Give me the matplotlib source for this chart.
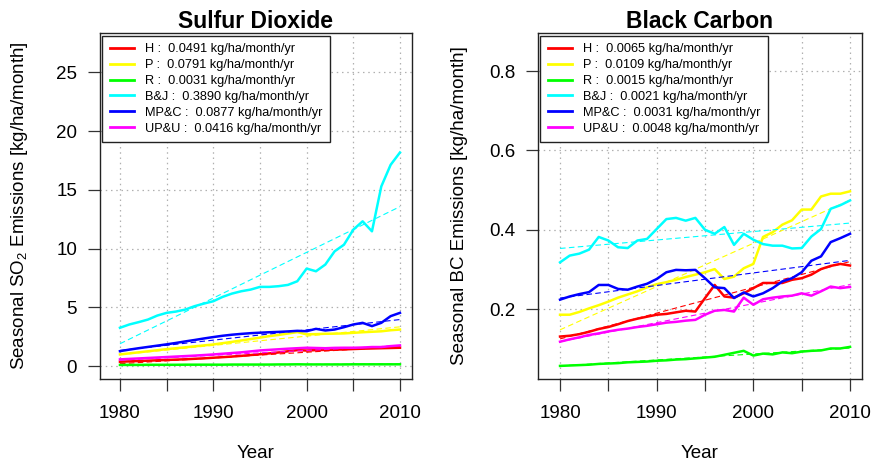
import matplotlib
matplotlib.use("Agg")
import matplotlib.pyplot as plt

plt.rcParams['font.family'] = ['Liberation Sans', 'DejaVu Sans']
plt.rcParams['mathtext.fontset'] = 'custom'
plt.rcParams['mathtext.rm'] = 'Liberation Sans'
plt.rcParams['mathtext.default'] = 'regular'

years = list(range(1980, 2011))
regions = ['H', 'P', 'R', 'B&J', 'MP&C', 'UP&U']
colors = ['#FF0000', '#FFFF00', '#00FF00', '#00FFFF', '#0000FF', '#FF00FF']

# Sulfur dioxide, kg/ha/month
so2_h = [0.37, 0.40, 0.43, 0.46, 0.49, 0.52, 0.55, 0.58, 0.62, 0.66,
         0.71, 0.76, 0.81, 0.87, 0.94, 1.01, 1.08, 1.16, 1.26, 1.36,
         1.32, 1.36, 1.38, 1.40, 1.42, 1.45, 1.48, 1.50, 1.52, 1.54, 1.56]
so2_p = [0.99, 1.08, 1.17, 1.26, 1.35, 1.44, 1.52, 1.60, 1.68, 1.76,
         1.84, 1.95, 2.06, 2.18, 2.30, 2.42, 2.55, 2.65, 2.77, 2.89,
         2.70, 2.72, 2.75, 2.76, 2.78, 2.83, 2.88, 2.92, 2.96, 3.05, 3.11]
so2_r = [0.10, 0.10, 0.10, 0.11, 0.11, 0.11, 0.11, 0.12, 0.12, 0.12,
         0.12, 0.12, 0.13, 0.13, 0.13, 0.13, 0.13, 0.14, 0.14, 0.15,
         0.14, 0.14, 0.14, 0.14, 0.14, 0.15, 0.15, 0.15, 0.15, 0.15, 0.15]
so2_bj = [3.26, 3.54, 3.74, 3.96, 4.30, 4.53, 4.64, 4.81, 5.10, 5.32,
          5.52, 5.89, 6.17, 6.37, 6.51, 6.74, 6.74, 6.80, 6.91, 7.22,
          8.30, 8.07, 8.64, 9.77, 10.33, 11.61, 12.32, 11.47, 15.29, 17.13, 18.18]
so2_mpc = [1.27, 1.40, 1.52, 1.63, 1.74, 1.85, 1.97, 2.10, 2.22, 2.35,
           2.47, 2.58, 2.67, 2.74, 2.80, 2.84, 2.88, 2.91, 2.95, 3.00,
           2.97, 3.17, 3.03, 3.11, 3.31, 3.54, 3.68, 3.40, 3.68, 4.25, 4.53]
so2_upu = [0.57, 0.61, 0.65, 0.69, 0.73, 0.77, 0.81, 0.85, 0.89, 0.94,
           0.99, 1.05, 1.11, 1.17, 1.25, 1.33, 1.38, 1.43, 1.48, 1.52,
           1.56, 1.54, 1.52, 1.55, 1.56, 1.56, 1.58, 1.62, 1.62, 1.70, 1.76]
so2_trend_1980 = [0.20, 0.97, 0.08, 1.90, 1.33, 0.50]
so2_trend_2010 = [1.67, 3.34, 0.17, 13.57, 3.96, 1.75]
so2_slopes = ['0.0491', '0.0791', '0.0031', '0.3890', '0.0877', '0.0416']

# Black carbon, kg/ha/month
bc_h = [0.131, 0.133, 0.137, 0.143, 0.150, 0.155, 0.162, 0.170, 0.176, 0.181,
        0.186, 0.188, 0.192, 0.196, 0.194, 0.228, 0.261, 0.232, 0.229, 0.240,
        0.253, 0.266, 0.266, 0.266, 0.274, 0.278, 0.287, 0.301, 0.309, 0.314, 0.310]
bc_p = [0.186, 0.186, 0.193, 0.202, 0.210, 0.219, 0.229, 0.237, 0.245, 0.255,
        0.263, 0.268, 0.274, 0.281, 0.287, 0.293, 0.301, 0.276, 0.282, 0.303,
        0.314, 0.382, 0.394, 0.413, 0.424, 0.451, 0.451, 0.484, 0.491, 0.491, 0.497]
bc_r = [0.057, 0.058, 0.059, 0.060, 0.062, 0.063, 0.064, 0.066, 0.067, 0.068,
        0.070, 0.071, 0.073, 0.074, 0.076, 0.078, 0.080, 0.085, 0.090, 0.095,
        0.083, 0.088, 0.086, 0.091, 0.089, 0.093, 0.095, 0.096, 0.101, 0.101, 0.105]
bc_bj = [0.318, 0.335, 0.340, 0.350, 0.382, 0.373, 0.356, 0.354, 0.373, 0.377,
         0.402, 0.427, 0.430, 0.423, 0.430, 0.400, 0.390, 0.407, 0.362, 0.390,
         0.375, 0.364, 0.360, 0.360, 0.353, 0.354, 0.383, 0.402, 0.453, 0.462, 0.474]
bc_mpc = [0.224, 0.232, 0.238, 0.243, 0.261, 0.261, 0.251, 0.249, 0.257, 0.264,
          0.276, 0.293, 0.299, 0.298, 0.299, 0.278, 0.255, 0.253, 0.228, 0.242,
          0.232, 0.240, 0.253, 0.270, 0.278, 0.293, 0.322, 0.333, 0.369, 0.379, 0.390]
bc_upu = [0.118, 0.124, 0.129, 0.135, 0.139, 0.144, 0.148, 0.151, 0.155, 0.158,
          0.162, 0.166, 0.168, 0.171, 0.173, 0.186, 0.196, 0.198, 0.194, 0.229,
          0.211, 0.225, 0.229, 0.232, 0.234, 0.240, 0.234, 0.245, 0.257, 0.253, 0.256]
bc_trend_1980 = [0.125, 0.148, 0.057, 0.353, 0.228, 0.118]
bc_trend_2010 = [0.320, 0.475, 0.102, 0.417, 0.323, 0.262]
bc_slopes = ['0.0065', '0.0109', '0.0015', '0.0021', '0.0031', '0.0048']

panels = [
    dict(title='Sulfur Dioxide', ylabel='Seasonal SO$_2$ Emissions [kg/ha/month]',
         series=[so2_h, so2_p, so2_r, so2_bj, so2_mpc, so2_upu],
         t0=so2_trend_1980, t1=so2_trend_2010, slopes=so2_slopes,
         rect=[100 / 873, 84 / 463, 312 / 873, 346 / 463],
         ylim=(-1.1, 28.35), yticks=[0, 5, 10, 15, 20, 25],
         yticklabels=['0', '5', '10', '15', '20', '25'],
         xlim=(1977.86, 2011.29), ylab_x=-0.225, leg_x=0.006),
    dict(title='Black Carbon', ylabel='Seasonal BC Emissions [kg/ha/month]',
         series=[bc_h, bc_p, bc_r, bc_bj, bc_mpc, bc_upu],
         t0=bc_trend_1980, t1=bc_trend_2010, slopes=bc_slopes,
         rect=[538 / 873, 84 / 463, 324 / 873, 346 / 463],
         ylim=(0.024, 0.896), yticks=[0.2, 0.4, 0.6, 0.8],
         yticklabels=['0.2', '0.4', '0.6', '0.8'],
         xlim=(1977.72, 2011.24), ylab_x=-0.216, leg_x=0.006),
]

fig = plt.figure(figsize=(8.73, 4.63), dpi=100)

for p in panels:
    ax = fig.add_axes(p['rect'])
    xt = list(range(1980, 2011, 5))
    ax.set_xticks(xt)
    ax.set_xticklabels([str(y) if y % 10 == 0 else '' for y in xt])
    ax.set_yticks(p['yticks'])
    ax.set_yticklabels(p['yticklabels'])
    ax.set_xlim(p['xlim'])
    ax.set_ylim(p['ylim'])
    ax.grid(True, color='#b0b0b0', linestyle=(0, (1.2, 3)), linewidth=0.9)
    ax.set_axisbelow(True)

    handles = []
    for vals, t0, t1, c, name, s in zip(p['series'], p['t0'], p['t1'], colors, regions, p['slopes']):
        ln, = ax.plot(years, vals, color=c, linewidth=1.8,
                      label=f'{name} :  {s} kg/ha/month/yr')
        ax.plot([years[0], years[-1]], [t0, t1], color=c, linewidth=0.8,
                linestyle=(0, (5, 3)))
        handles.append(ln)

    for sp in ax.spines.values():
        sp.set_linewidth(1.0)
        sp.set_color('#222222')
    ax.tick_params(axis='both', direction='out', length=8.5, width=0.9,
                   color='#333333', labelsize=13.5)
    ax.tick_params(axis='x', pad=10)
    ax.tick_params(axis='y', pad=8)

    ax.set_title(p['title'], fontsize=16.5, fontweight='bold', pad=3)
    ax.set_ylabel(p['ylabel'], fontsize=13.5)
    ax.yaxis.set_label_coords(p['ylab_x'], 0.5)
    ax.set_xlabel('Year', fontsize=13.5)
    ax.xaxis.set_label_coords(0.5, -0.19)

    leg = ax.legend(handles=handles, loc='upper left',
                    bbox_to_anchor=(p['leg_x'], 0.992), borderaxespad=0,
                    fontsize=9.2, handlelength=1.9, handletextpad=0.9,
                    labelspacing=0.3, borderpad=0.6, fancybox=False,
                    framealpha=1, edgecolor='#222222')
    leg.get_frame().set_linewidth(1.0)
    for h in leg.legend_handles:
        h.set_linewidth(2.0)

fig.savefig('out.png', dpi=100)
